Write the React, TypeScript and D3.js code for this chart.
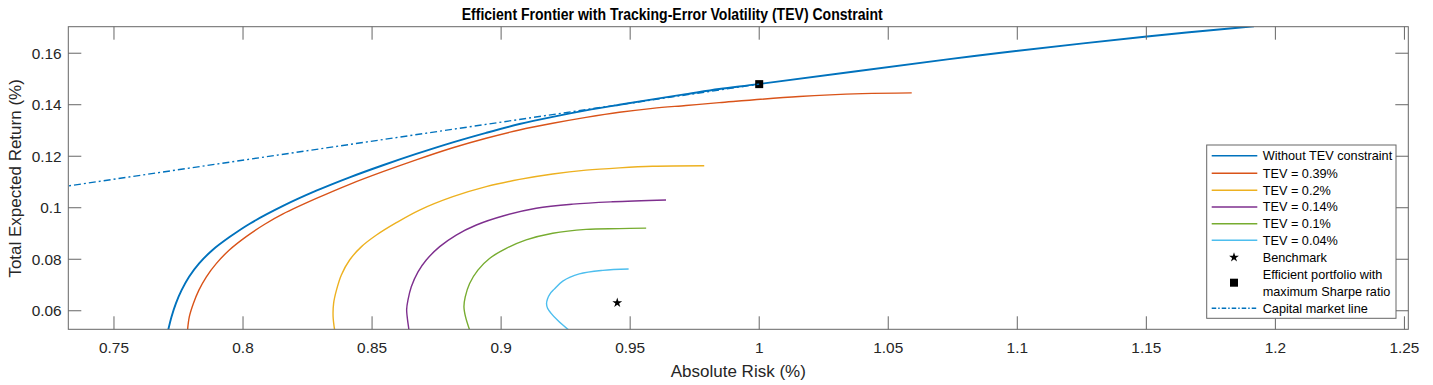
import React from 'react';
import * as d3 from 'd3';

// frontier points: [absolute risk %, total expected return %]
const noTev = [
  [0.7710, 0.0525], [0.7723, 0.0577], [0.7740, 0.0629], [0.7762, 0.0680], [0.7791, 0.0732],
  [0.7830, 0.0784], [0.7882, 0.0836], [0.7949, 0.0887], [0.8026, 0.0938], [0.8155, 0.1007],
  [0.8284, 0.1066], [0.8413, 0.1118], [0.8542, 0.1165], [0.8671, 0.1209], [0.8813, 0.1254],
  [0.8942, 0.1291], [0.9071, 0.1325], [0.9200, 0.1353], [0.9329, 0.1378], [0.9458, 0.1400],
  [0.9587, 0.1421], [0.9716, 0.1441], [0.9845, 0.1461], [0.9996, 0.1480], [1.0729, 0.1576],
  [1.0929, 0.1601], [1.1493, 0.1664], [1.1917, 0.1705],
];
const tev039 = [
  [0.7785, 0.0525], [0.7792, 0.0577], [0.7808, 0.0629], [0.7829, 0.0680], [0.7858, 0.0732],
  [0.7897, 0.0784], [0.7947, 0.0836], [0.8011, 0.0887], [0.8084, 0.0936], [0.8155, 0.0976],
  [0.8284, 0.1036], [0.8413, 0.1091], [0.8542, 0.1140], [0.8671, 0.1186], [0.8813, 0.1233],
  [0.8942, 0.1270], [0.9071, 0.1302], [0.9200, 0.1328], [0.9329, 0.1351], [0.9458, 0.1371],
  [0.9587, 0.1386], [0.9716, 0.1397], [0.9845, 0.1408], [1.0155, 0.1432], [1.0400, 0.1443],
  [1.0591, 0.1446],
];
const tev020 = [
  [0.8355, 0.0525], [0.8349, 0.0577], [0.8351, 0.0629], [0.8362, 0.0680], [0.8381, 0.0739],
  [0.8413, 0.0797], [0.8459, 0.0849], [0.8517, 0.0894], [0.8594, 0.0942], [0.8684, 0.0991],
  [0.8813, 0.1043], [0.8942, 0.1082], [0.9071, 0.1110], [0.9200, 0.1131], [0.9329, 0.1146],
  [0.9458, 0.1155], [0.9587, 0.1161], [0.9787, 0.1163],
];
const tev014 = [
  [0.8643, 0.0525], [0.8636, 0.0577], [0.8634, 0.0605], [0.8639, 0.0641], [0.8652, 0.0693],
  [0.8678, 0.0751], [0.8710, 0.0797], [0.8762, 0.0849], [0.8826, 0.0894], [0.8904, 0.0933],
  [0.9007, 0.0968], [0.9136, 0.0998], [0.9278, 0.1014], [0.9432, 0.1023], [0.9639, 0.1030],
];
const tev010 = [
  [0.8878, 0.0525], [0.8862, 0.0577], [0.8856, 0.0616], [0.8861, 0.0654], [0.8878, 0.0706],
  [0.8910, 0.0758], [0.8955, 0.0803], [0.9020, 0.0842], [0.9097, 0.0875], [0.9200, 0.0901],
  [0.9329, 0.0916], [0.9458, 0.0919], [0.9562, 0.0921],
];
const tev004 = [
  [0.9262, 0.0525], [0.9220, 0.0562], [0.9193, 0.0591], [0.9180, 0.0610], [0.9176, 0.0628],
  [0.9180, 0.0647], [0.9189, 0.0665], [0.9205, 0.0683], [0.9239, 0.0715], [0.9303, 0.0743],
  [0.9394, 0.0757], [0.9494, 0.0762],
];
const capitalMarketLine = [[0.70, 0.1037], [1.0, 0.148]];
const benchmark = [0.945, 0.0631];
const maxSharpe = [1.0, 0.148];

const seriesNames = ['Without TEV constraint', 'TEV = 0.39%', 'TEV = 0.2%', 'TEV = 0.14%', 'TEV = 0.1%', 'TEV = 0.04%'];
const seriesData = [noTev, tev039, tev020, tev014, tev010, tev004];
const colors = ['#0072BD', '#D95319', '#EDB120', '#7E2F8E', '#77AC30', '#4DBEEE'];

const xTicks = [0.75, 0.8, 0.85, 0.9, 0.95, 1, 1.05, 1.1, 1.15, 1.2, 1.25];
const yTicks = [0.06, 0.08, 0.1, 0.12, 0.14, 0.16];

const W = 1433;
const H = 385;
const L = 68.3, R = 1408.3, T = 26.7, B = 329.3;
const font = "'Liberation Sans', Arial, Helvetica, sans-serif";
const ink = '#262626';
const axisColor = '#666';

const fmt = (v: number) => String(+v.toFixed(2));

export default function App() {
  const x = d3.scaleLinear().domain([0.7323, 1.2515]).range([L, R]);
  const y = d3.scaleLinear().domain([0.0528, 0.1703]).range([B, T]);
  const line = d3.line<number[]>().x(d => x(d[0])).y(d => y(d[1])).curve(d3.curveCatmullRom.alpha(0.5));
  const straight = d3.line<number[]>().x(d => x(d[0])).y(d => y(d[1]));
  const star = d3.symbol().type(d3.symbolStar).size(30)();
  const tick = 13;

  // legend layout
  const lgX0 = 1211.7, lgX1 = 1257.3, lgText = 1262.7, lgMark = 1234;
  const rowY = [155.7, 173.3, 190.3, 207, 223.7, 240.3];

  return (
    <svg width={W} height={H} style={{ position: 'absolute', left: 0, top: 0, background: '#fff' }}>
      <defs>
        <clipPath id="plot">
          <rect x={L} y={T} width={R - L} height={B - T} />
        </clipPath>
      </defs>
      <rect x={0} y={0} width={W} height={H} fill="#fff" />

      <g clipPath="url(#plot)" fill="none" strokeLinejoin="round">
        {seriesData.map((s, i) => (
          <path key={i} d={line(s) || ''} stroke={colors[i]} strokeWidth={i === 0 ? 1.9 : 1.4} />
        ))}
        <path d={star || ''} transform={`translate(${x(benchmark[0])},${y(benchmark[1])})`} fill="#000" />
        <rect x={x(maxSharpe[0]) - 4} y={y(maxSharpe[1]) - 4} width={8} height={8} fill="#000" />
        <path d={straight(capitalMarketLine) || ''} stroke="#0072BD" strokeWidth={1.4} strokeDasharray="7 3 2 3" />
      </g>

      {/* axes box and ticks */}
      <rect x={L} y={T} width={R - L} height={B - T} fill="none" stroke={axisColor} strokeWidth={1} />
      {xTicks.map(v => (
        <g key={'x' + v}>
          <line x1={x(v)} x2={x(v)} y1={B} y2={B - tick} stroke={axisColor} />
          <line x1={x(v)} x2={x(v)} y1={T} y2={T + tick} stroke={axisColor} />
          <text x={x(v)} y={353} textAnchor="middle" fontFamily={font} fontSize={15.4} fill={ink}>{fmt(v)}</text>
        </g>
      ))}
      {yTicks.map(v => (
        <g key={'y' + v}>
          <line x1={L} x2={L + tick} y1={y(v)} y2={y(v)} stroke={axisColor} />
          <line x1={R} x2={R - tick} y1={y(v)} y2={y(v)} stroke={axisColor} />
          <text x={61.7} y={y(v)} dy="0.35em" textAnchor="end" fontFamily={font} fontSize={15.4} fill={ink}>{fmt(v)}</text>
        </g>
      ))}

      <text x={738.3} y={376.7} textAnchor="middle" fontFamily={font} fontSize={17} fill={ink}>Absolute Risk (%)</text>
      <text transform="translate(20.5,178.4) rotate(-90)" textAnchor="middle" fontFamily={font} fontSize={17} fill={ink}>
        Total Expected Return (%)
      </text>
      <text x={672.2} y={20} textAnchor="middle" fontFamily={font} fontSize={16.3} fontWeight="bold" fill="#000"
        textLength={421} lengthAdjust="spacingAndGlyphs">
        Efficient Frontier with Tracking-Error Volatility (TEV) Constraint
      </text>

      {/* legend */}
      <rect x={1206.7} y={145} width={1396 - 1206.7} height={318.3 - 145} fill="#fff" stroke={axisColor} strokeWidth={1} />
      {seriesNames.map((n, i) => (
        <g key={n}>
          <line x1={lgX0} x2={lgX1} y1={rowY[i]} y2={rowY[i]} stroke={colors[i]} strokeWidth={1.4} />
          <text x={lgText} y={rowY[i]} dy="0.35em" fontFamily={font} fontSize={12.7} fill="#000">{n}</text>
        </g>
      ))}
      <path d={star || ''} transform={`translate(${lgMark},257.3)`} fill="#000" />
      <text x={lgText} y={257.3} dy="0.35em" fontFamily={font} fontSize={12.7} fill="#000">Benchmark</text>
      <rect x={lgMark - 4} y={282.7 - 4} width={8} height={8} fill="#000" />
      <text x={lgText} y={275} dy="0.35em" fontFamily={font} fontSize={12.7} fill="#000">Efficient portfolio with</text>
      <text x={lgText} y={291.7} dy="0.35em" fontFamily={font} fontSize={12.7} fill="#000">maximum Sharpe ratio</text>
      <line x1={lgX0} x2={lgX1} y1={308.3} y2={308.3} stroke="#0072BD" strokeWidth={1.4} strokeDasharray="4.5 2 1.5 2" />
      <text x={lgText} y={308.3} dy="0.35em" fontFamily={font} fontSize={12.7} fill="#000">Capital market line</text>
    </svg>
  );
}
